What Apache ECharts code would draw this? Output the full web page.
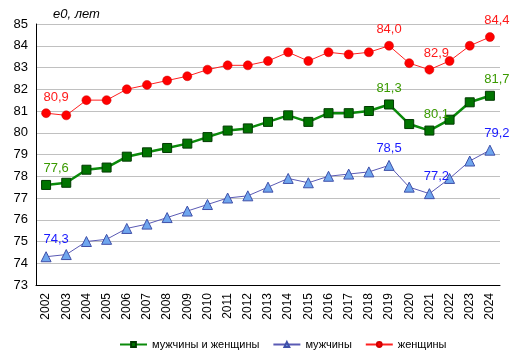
<!DOCTYPE html>
<html><head><meta charset="utf-8">
<script src="https://cdn.jsdelivr.net/npm/echarts@6/dist/echarts.min.js"></script>
<style>html,body{margin:0;padding:0;background:#fff}#c{width:513px;height:359px}</style>
</head><body><div id="c"></div>
<script>
const years = ['2002','2003','2004','2005','2006','2007','2008','2009','2010','2011','2012','2013','2014','2015','2016','2017','2018','2019','2020','2021','2022','2023','2024'];
const total = [77.6,77.7,78.3,78.4,78.9,79.1,79.3,79.5,79.8,80.1,80.2,80.5,80.8,80.5,80.9,80.9,81.0,81.3,80.4,80.1,80.6,81.4,81.7];
const men   = [74.3,74.4,75.0,75.1,75.6,75.8,76.1,76.4,76.7,77.0,77.1,77.5,77.9,77.7,78.0,78.1,78.2,78.5,77.5,77.2,77.9,78.7,79.2];
const women = [80.9,80.8,81.5,81.5,82.0,82.2,82.4,82.6,82.9,83.1,83.1,83.3,83.7,83.3,83.7,83.6,83.7,84.0,83.2,82.9,83.3,84.0,84.4];
const seriesNames = ['мужчины и женщины','мужчины','женщины'];
const labelIdx = [0,17,19,22];
const labelOffsetX = {0:10,17:0,19:7,22:7};

function build(arr,color){
  return arr.map((v,i)=>{
    if(labelIdx.indexOf(i)>=0){
      return {value:v,label:{show:true,position:'top',distance:5,offset:[labelOffsetX[i],0],color:color,
        fontFamily:'Arial, Liberation Sans',fontSize:13,formatter:p=>String(p.value.toFixed(1)).replace('.',',')}};
    }
    return v;
  });
}
const chart = echarts.init(document.getElementById('c'));
chart.setOption({
  animation:false,
  textStyle:{fontFamily:'Arial, Liberation Sans'},
  title:{text:'e0, лет',left:48,top:3,textStyle:{fontSize:13,fontStyle:'italic',fontWeight:'normal',color:'#000',fontFamily:'Arial, Liberation Sans'}},
  grid:{left:36,right:13,top:24,bottom:74,containLabel:false},
  legend:{bottom:4,left:114,itemWidth:27,itemHeight:6,itemGap:13,
    textStyle:{fontSize:11,color:'#000',fontFamily:'Arial, Liberation Sans'},data:seriesNames},
  xAxis:{type:'category',data:years,boundaryGap:true,
    axisLine:{lineStyle:{color:'#000',width:1}},axisTick:{show:false},
    axisLabel:{rotate:90,fontSize:12,color:'#000',margin:8,interval:0}},
  yAxis:{type:'value',min:73,max:85,interval:1,
    axisLine:{show:true,lineStyle:{color:'#000'}},axisTick:{show:false},
    axisLabel:{fontSize:13,color:'#000',margin:8},
    splitLine:{lineStyle:{color:'#c0c0c0',width:1}}},
  series:[
    {name:seriesNames[0],type:'line',data:build(total,'#3a9a00'),symbol:'rect',symbolSize:9,
      lineStyle:{color:'#0a8a0a',width:2.5},itemStyle:{color:'#007400',borderColor:'#003a00',borderWidth:1},z:3},
    {name:seriesNames[1],type:'line',data:build(men,'#1a1aff'),symbol:'triangle',symbolSize:10,
      lineStyle:{color:'#5a5ab4',width:1},itemStyle:{color:'#6fa6ee',borderColor:'#3f4fa8',borderWidth:1},z:2},
    {name:seriesNames[2],type:'line',data:build(women,'#ff1a1a'),symbol:'circle',symbolSize:9,
      lineStyle:{color:'#ff2020',width:1},itemStyle:{color:'#ff0000',borderColor:'#d00000',borderWidth:0.5},z:4}
  ]
});
</script></body></html>
